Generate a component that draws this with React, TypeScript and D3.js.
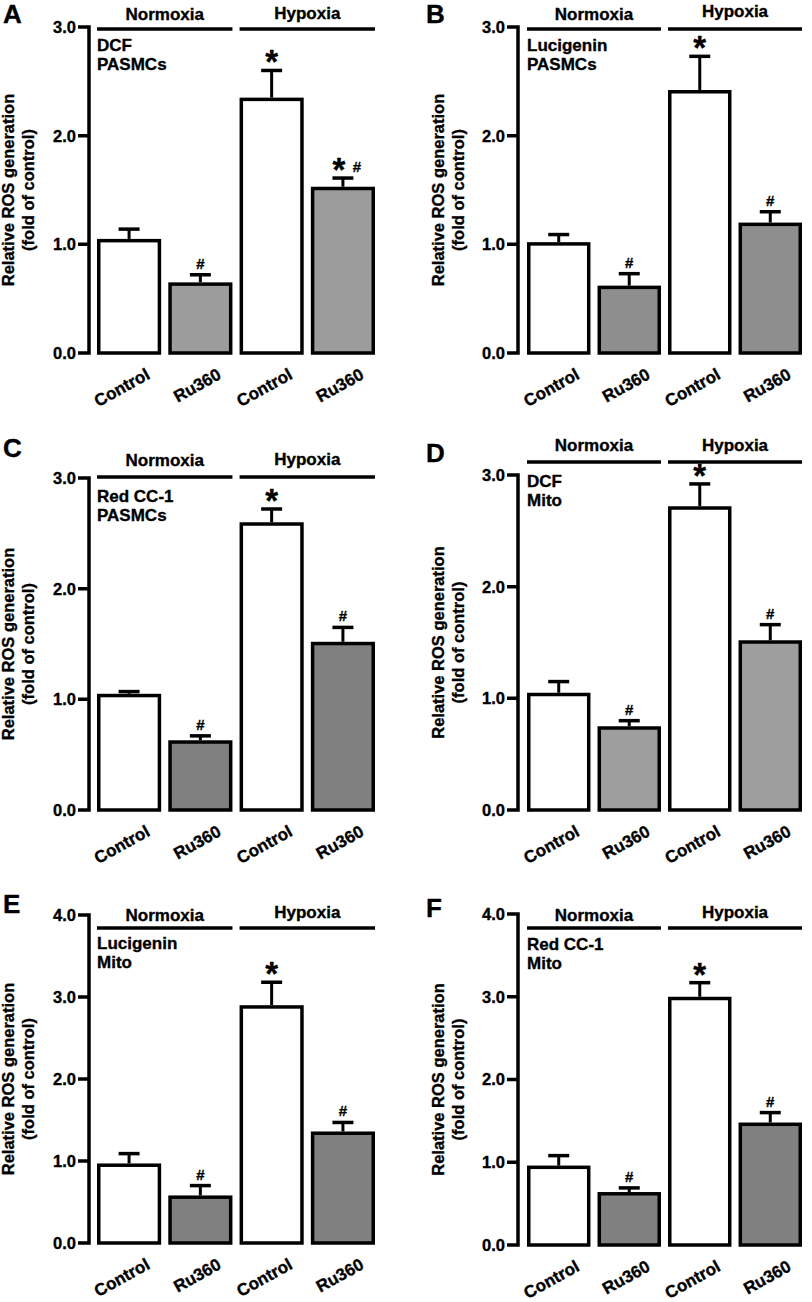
import { useEffect, useRef } from "react";
import * as d3 from "d3";

// ---- data ----
const GROUPS = ["Normoxia", "Hypoxia"];
const CONDITIONS = ["Control", "Ru360", "Control", "Ru360"];

const PANEL_IDS = ["A", "B", "C", "D", "E", "F"];
const PANEL_NOTES = [
  ["DCF", "PASMCs"],
  ["Lucigenin", "PASMCs"],
  ["Red CC-1", "PASMCs"],
  ["DCF", "Mito"],
  ["Lucigenin", "Mito"],
  ["Red CC-1", "Mito"],
];
const Y_MAX = [3, 3, 3, 3, 4, 4];

const MEANS = [
  [1.05, 0.65, 2.35, 1.53],
  [1.02, 0.62, 2.42, 1.2],
  [1.05, 0.63, 2.6, 1.52],
  [1.05, 0.75, 2.72, 1.52],
  [0.97, 0.58, 2.9, 1.36],
  [0.96, 0.64, 3.0, 1.48],
];
const UPPER = [
  [1.14, 0.72, 2.6, 1.61],
  [1.09, 0.73, 2.73, 1.3],
  [1.07, 0.67, 2.72, 1.65],
  [1.15, 0.8, 2.92, 1.66],
  [1.09, 0.7, 3.18, 1.47],
  [1.08, 0.69, 3.17, 1.6],
];
const MARKS = [
  ["", "#", "*", "*#"],
  ["", "#", "*", "#"],
  ["", "#", "*", "#"],
  ["", "#", "*", "#"],
  ["", "#", "*", "#"],
  ["", "#", "*", "#"],
];
const RU360_FILL = ["#9c9c9c", "#8e8e8e", "#808080", "#9e9e9e", "#808080", "#808080"];

// ---- layout (page pixels) ----
const LEFT = { axisX: 89, barStart: 97, barEnd: 375, letterX: 3, titleX: 14 };
const RIGHT = { axisX: 518, barStart: 527, barEnd: 802, letterX: 426, titleX: 444 };
const LAYOUT = [
  { col: LEFT, yTop: 27, yBottom: 353, lineY: 29, nY: 20, hY: 19, letterY: 23, noteY: 51 },
  { col: RIGHT, yTop: 27, yBottom: 353, lineY: 29, nY: 20, hY: 17, letterY: 23, noteY: 51 },
  { col: LEFT, yTop: 478, yBottom: 810, lineY: 477, nY: 466, hY: 465, letterY: 457, noteY: 502 },
  { col: RIGHT, yTop: 475, yBottom: 810, lineY: 462, nY: 451, hY: 451, letterY: 462, noteY: 487 },
  { col: LEFT, yTop: 915, yBottom: 1243, lineY: 928, nY: 921, hY: 918, letterY: 913, noteY: 949 },
  { col: RIGHT, yTop: 914, yBottom: 1245, lineY: 928, nY: 921, hY: 918, letterY: 917, noteY: 950 },
];

const FONT = "'Liberation Sans', Arial, Helvetica, sans-serif";
const SW = 3.5;

export default function App() {
  const svgRef = useRef<SVGSVGElement>(null);

  useEffect(() => {
    if (!svgRef.current) return;
    const svg = d3.select(svgRef.current);
    svg.selectAll("*").remove();

    // bold text with a hairline stroke to get the heavier print weight
    const txt = (sel: d3.Selection<SVGGElement, unknown, null, undefined>, size: number) =>
      sel
        .append("text")
        .attr("font-family", FONT)
        .attr("font-weight", "bold")
        .attr("font-size", size)
        .attr("stroke", "#000")
        .attr("stroke-width", 0.35);

    PANEL_IDS.forEach((id, p) => {
      const L = LAYOUT[p];
      const c = L.col;
      const g = svg.append("g");

      const y = d3.scaleLinear().domain([0, Y_MAX[p]]).range([L.yBottom, L.yTop]);
      const x = d3
        .scaleBand<number>()
        .domain([0, 1, 2, 3])
        .range([c.barStart, c.barEnd])
        .paddingInner(0.1);

      // panel letter
      txt(g, 26).attr("x", c.letterX).attr("y", L.letterY).text(id);

      // y axis with ticks
      const ticks = d3.range(0, Y_MAX[p] + 1);
      let d = `M${c.axisX - 11},${y(Y_MAX[p])}H${c.axisX}V${y(0)}H${c.axisX - 11}`;
      ticks.slice(1, -1).forEach((t) => {
        d += `M${c.axisX - 11},${y(t)}H${c.axisX}`;
      });
      g.append("path")
        .attr("d", d)
        .attr("fill", "none")
        .attr("stroke", "#000")
        .attr("stroke-width", SW)
        .attr("stroke-linejoin", "miter");

      ticks.forEach((t) => {
        txt(g, 16.5)
          .attr("x", c.axisX - 13)
          .attr("y", y(t))
          .attr("dy", "0.36em")
          .attr("text-anchor", "end")
          .text(t.toFixed(1));
      });

      // y axis title
      const midY = (L.yTop + L.yBottom) / 2;
      ["Relative ROS generation", "(fold of control)"].forEach((s, i) => {
        const tx = c.titleX + i * 20;
        txt(g, 16.5)
          .attr("transform", `translate(${tx},${midY}) rotate(-90)`)
          .attr("text-anchor", "middle")
          .text(s);
      });

      // group headers
      GROUPS.forEach((name, gi) => {
        const x0 = x(gi * 2)!;
        const x1 = x(gi * 2 + 1)! + x.bandwidth();
        g.append("line")
          .attr("x1", x0)
          .attr("x2", x1)
          .attr("y1", L.lineY)
          .attr("y2", L.lineY)
          .attr("stroke", "#000")
          .attr("stroke-width", SW);
        txt(g, 17)
          .attr("x", (x0 + x1) / 2)
          .attr("y", gi === 0 ? L.nY : L.hY)
          .attr("text-anchor", "middle")
          .text(name);
      });

      // assay / sample note
      PANEL_NOTES[p].forEach((s, i) => {
        txt(g, 17)
          .attr("x", c.barStart)
          .attr("y", L.noteY + i * 19)
          .text(s);
      });

      // bars
      MEANS[p].forEach((v, i) => {
        const bx = x(i)!;
        const cx = bx + x.bandwidth() / 2;
        const top = y(v);
        const capY = y(UPPER[p][i]);

        // error bar (upper only)
        g.append("line")
          .attr("x1", cx).attr("x2", cx)
          .attr("y1", top).attr("y2", capY)
          .attr("stroke", "#000").attr("stroke-width", 3);
        g.append("line")
          .attr("x1", cx - 10.5).attr("x2", cx + 10.5)
          .attr("y1", capY).attr("y2", capY)
          .attr("stroke", "#000").attr("stroke-width", SW);

        g.append("rect")
          .attr("x", bx + SW / 2)
          .attr("y", top + SW / 2)
          .attr("width", x.bandwidth() - SW)
          .attr("height", y(0) - top - SW / 2)
          .attr("fill", i % 2 === 1 ? RU360_FILL[p] : "#fff")
          .attr("stroke", "#000")
          .attr("stroke-width", SW);

        // significance marks
        const mark = MARKS[p][i];
        const star = (sx: number) =>
          txt(g, 33).attr("x", sx).attr("y", capY + 3).attr("text-anchor", "middle").text("*");
        const hash = (hx: number) =>
          txt(g, 15).attr("x", hx).attr("y", capY - 6).attr("text-anchor", "middle").text("#");
        if (mark === "*") star(cx);
        if (mark === "#") hash(cx);
        if (mark === "*#") {
          star(cx - 4);
          hash(cx + 14);
        }

        // x label
        const lx = cx + 22;
        const ly = y(0) + 25;
        txt(g, 17)
          .attr("transform", `translate(${lx},${ly}) rotate(-29)`)
          .attr("text-anchor", "end")
          .text(CONDITIONS[i]);
      });
    });
  }, []);

  return (
    <svg
      ref={svgRef}
      width={812}
      height={1302}
      style={{ position: "absolute", left: 0, top: 0, background: "#fff" }}
    />
  );
}
